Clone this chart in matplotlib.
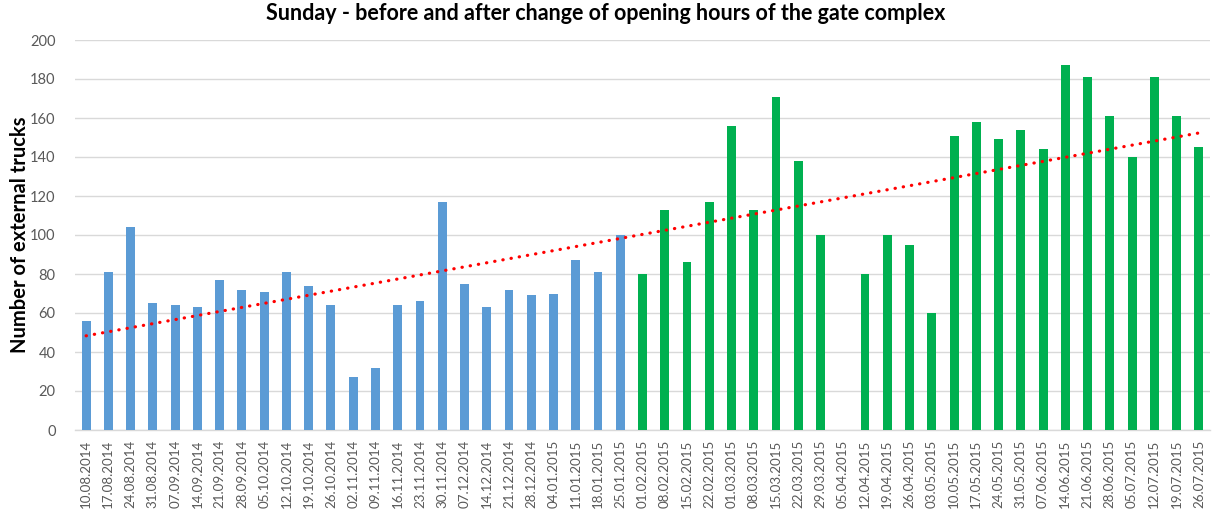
import numpy as np
import matplotlib
matplotlib.use("Agg")
import matplotlib.pyplot as plt

plt.rcParams['font.family'] = ['Lato', 'DejaVu Sans']

dates_before = ["10.08.2014", "17.08.2014", "24.08.2014", "31.08.2014", "07.09.2014",
                "14.09.2014", "21.09.2014", "28.09.2014", "05.10.2014", "12.10.2014",
                "19.10.2014", "26.10.2014", "02.11.2014", "09.11.2014", "16.11.2014",
                "23.11.2014", "30.11.2014", "07.12.2014", "14.12.2014", "21.12.2014",
                "28.12.2014", "04.01.2015", "11.01.2015", "18.01.2015", "25.01.2015"]
values_before = [56, 81, 104, 65, 64, 63, 77, 72, 71, 81, 74, 64, 27, 32, 64,
                 66, 117, 75, 63, 72, 69, 70, 87, 81, 100]

dates_after = ["01.02.2015", "08.02.2015", "15.02.2015", "22.02.2015", "01.03.2015",
               "08.03.2015", "15.03.2015", "22.03.2015", "29.03.2015", "05.04.2015",
               "12.04.2015", "19.04.2015", "26.04.2015", "03.05.2015", "10.05.2015",
               "17.05.2015", "24.05.2015", "31.05.2015", "07.06.2015", "14.06.2015",
               "21.06.2015", "28.06.2015", "05.07.2015", "12.07.2015", "19.07.2015",
               "26.07.2015"]
values_after = [80, 113, 86, 117, 156, 113, 171, 138, 100, 0, 80, 100, 95, 60, 151,
                158, 149, 154, 144, 187, 181, 161, 140, 181, 161, 145]

labels = dates_before + dates_after
values = values_before + values_after
n_before = len(values_before)
x = np.arange(len(labels))

fig = plt.figure(figsize=(12.12, 5.21), dpi=100)
ax = fig.add_axes([75/1212, 91/521, 1135/1212, 390/521])

ax.bar(x[:n_before], values_before, width=0.4, color='#5b9bd5', zorder=3)
ax.bar(x[n_before:], values_after, width=0.4, color='#00b050', zorder=3)

coef = np.polyfit(x, values, 1)
trend = np.polyval(coef, x)
ax.plot(x, trend, linestyle=(0, (0.1, 2.5)), color='#ff0000', lw=2.3,
        dash_capstyle='round', zorder=4)

ax.set_xlim(-0.5, len(labels) - 0.5)
ax.set_ylim(0, 200)
ax.set_yticks(np.arange(0, 201, 20))
ax.grid(axis='y', color='#d9d9d9', lw=1, zorder=0)
ax.set_axisbelow(True)
for s in ['top', 'right', 'left']:
    ax.spines[s].set_visible(False)
ax.spines['bottom'].set_color('#d9d9d9')
ax.spines['bottom'].set_linewidth(1)

ax.set_xticks(x)
ax.set_xticklabels(labels, rotation=90, fontsize=9.6, color='#595959')
ax.tick_params(axis='x', length=0, pad=7)
ax.tick_params(axis='y', length=0, labelsize=10.5, labelcolor='#595959', pad=14)

ax.set_ylabel("Number of external trucks", fontsize=14.5, fontweight='bold',
              color='black', labelpad=0)
fig.suptitle("Sunday - before and after change of opening hours of the gate complex",
             fontsize=15.5, fontweight='bold', y=0.995, x=0.5)

fig.savefig("out.png", dpi=100)
